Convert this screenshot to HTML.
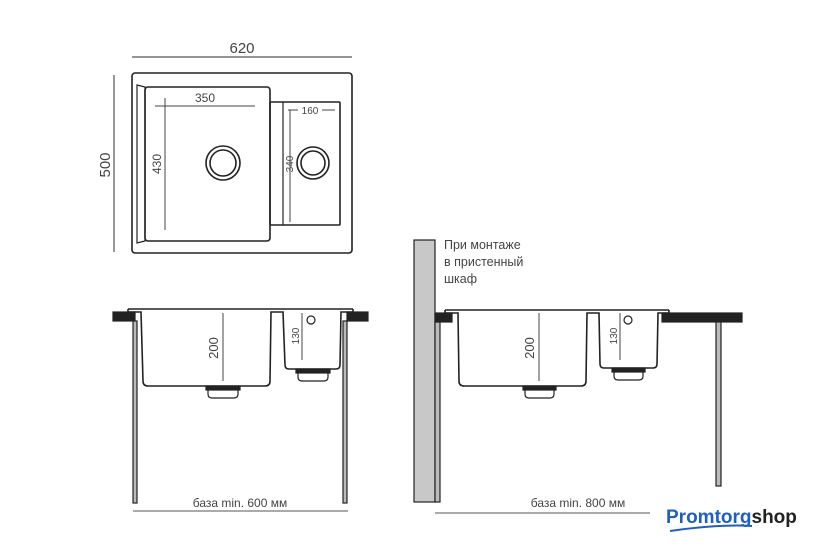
<!DOCTYPE html>
<html><head><meta charset="utf-8"><style>
html,body{margin:0;padding:0;background:#fff;}
svg{display:block}
text{font-family:"Liberation Sans",sans-serif;fill:#444;}
</style></head><body>
<svg width="840" height="553" viewBox="0 0 840 553" xmlns="http://www.w3.org/2000/svg">
<g stroke="#222" fill="none" stroke-width="1.2">
<!-- top view -->
<line x1="132" y1="57" x2="352" y2="57" stroke="#555"/>
<line x1="114" y1="75" x2="114" y2="252" stroke="#555"/>
<rect x="132" y="73" width="220" height="180" rx="3" stroke-width="1.6"/>
<path d="M137 85 L145 87 L145 241 L137 243 Z" stroke-width="1.2"/>
<rect x="145" y="87" width="125" height="154" rx="3" stroke-width="1.6"/>
<rect x="270" y="102" width="70" height="123" rx="1" stroke-width="1.6"/>
<line x1="283" y1="102" x2="283" y2="225"/>
<line x1="155" y1="106" x2="255" y2="106" stroke="#444" stroke-width="1"/>
<line x1="165" y1="98" x2="165" y2="230" stroke="#444" stroke-width="1"/>
<circle cx="223" cy="163" r="17" stroke-width="1.6"/>
<circle cx="223" cy="163" r="13" stroke-width="1.6"/>
<line x1="288" y1="110" x2="298" y2="110" stroke="#444" stroke-width="1"/>
<line x1="322" y1="110" x2="335" y2="110" stroke="#444" stroke-width="1"/>
<line x1="290" y1="110" x2="290" y2="222" stroke="#444" stroke-width="1"/>
<circle cx="313" cy="163" r="16" stroke-width="1.6"/>
<circle cx="313" cy="163" r="12" stroke-width="1.6"/>
</g>
<text x="242" y="53" font-size="15" text-anchor="middle">620</text>
<text transform="translate(110,165) rotate(-90)" font-size="15" text-anchor="middle">500</text>
<text x="205" y="102" font-size="12" text-anchor="middle">350</text>
<text transform="translate(161,164) rotate(-90)" font-size="12" text-anchor="middle">430</text>
<text x="310" y="114" font-size="10" text-anchor="middle">160</text>
<text transform="translate(293,164) rotate(-90)" font-size="10" text-anchor="middle">340</text>

<!-- side view left -->
<g stroke="#222" stroke-width="1.2">
<rect x="113" y="312" width="22" height="9" fill="#222"/>
<rect x="347" y="312" width="21" height="9" fill="#222"/>
<rect x="133" y="321" width="4" height="182" fill="#bbb"/>
<rect x="343" y="321" width="4" height="182" fill="#bbb"/>
<line x1="128" y1="309" x2="353" y2="309" stroke-width="1.6"/>
<path d="M128 309 L128 312 L141 312 L143 381 Q143 386 148 386 L265 386 Q270 386 270 381 L271 312 L283 312 L285 365 Q285 369 289 369 L336 369 Q340 369 340 365 L341 312 L353 312 L353 309" fill="none" stroke-width="1.6"/>
<rect x="206" y="386" width="34" height="4" fill="#222"/>
<path d="M208 390 L208 394 Q208 398 212 398 L234 398 Q238 398 238 394 L238 390" fill="none"/>
<rect x="296" y="369" width="34" height="4" fill="#222"/>
<path d="M298 373 L298 377 Q298 381 302 381 L324 381 Q328 381 328 377 L328 373" fill="none"/>
<line x1="223" y1="313" x2="223" y2="381" stroke="#444" stroke-width="1"/>
<line x1="302" y1="313" x2="302" y2="360" stroke="#444" stroke-width="1"/>
<circle cx="311" cy="320" r="4" fill="none"/>
<line x1="133" y1="511" x2="348" y2="511" stroke="#555" stroke-width="1"/>
</g>
<text transform="translate(218,348) rotate(-90)" font-size="13" text-anchor="middle">200</text>
<text transform="translate(299,336) rotate(-90)" font-size="10" text-anchor="middle">130</text>
<text x="240" y="507" font-size="12" text-anchor="middle">база min. 600 мм</text>

<!-- side view right -->
<g stroke="#222" stroke-width="1.2">
<rect x="414" y="240" width="21" height="262" fill="#c8c8c8"/>
<rect x="435" y="322" width="5" height="180" fill="#bbb"/>
<rect x="435" y="313" width="17" height="9" fill="#222"/>
<rect x="662" y="313" width="80" height="9" fill="#222"/>
<rect x="716" y="322" width="5" height="164" fill="#bbb"/>
<line x1="445" y1="310" x2="669" y2="310" stroke-width="1.6"/>
<path d="M445 310 L445 313 L458 313 L459 381 Q459 386 464 386 L581 386 Q586 386 586 381 L587 313 L599 313 L600 364 Q600 368 604 368 L653 368 Q657 368 657 364 L658 313 L669 313 L669 310" fill="none" stroke-width="1.6"/>
<rect x="523" y="386" width="33" height="4" fill="#222"/>
<path d="M525 390 L525 394 Q525 398 529 398 L550 398 Q554 398 554 394 L554 390" fill="none"/>
<rect x="612" y="368" width="33" height="4" fill="#222"/>
<path d="M614 372 L614 376 Q614 380 618 380 L639 380 Q643 380 643 376 L643 372" fill="none"/>
<line x1="539" y1="313" x2="539" y2="381" stroke="#444" stroke-width="1"/>
<line x1="620" y1="313" x2="620" y2="360" stroke="#444" stroke-width="1"/>
<circle cx="628" cy="320" r="4" fill="none"/>
<line x1="435" y1="513" x2="650" y2="513" stroke="#555" stroke-width="1"/>
</g>
<text transform="translate(534,348) rotate(-90)" font-size="13" text-anchor="middle">200</text>
<text transform="translate(617,336) rotate(-90)" font-size="10" text-anchor="middle">130</text>
<text x="578" y="507" font-size="12" text-anchor="middle">база min. 800 мм</text>
<text x="444" y="249" font-size="12.5">При монтаже</text>
<text x="444" y="266" font-size="12.5">в пристенный</text>
<text x="444" y="283" font-size="12.5">шкаф</text>

<!-- logo -->
<text x="666" y="523" font-size="19" font-weight="bold" style="fill:#1f5fbf">Promtorg<tspan style="fill:#222">shop</tspan></text>
<path d="M670 531 Q720 524 752 526" stroke="#1f5fbf" stroke-width="2" fill="none"/>
</svg>
</body></html>
